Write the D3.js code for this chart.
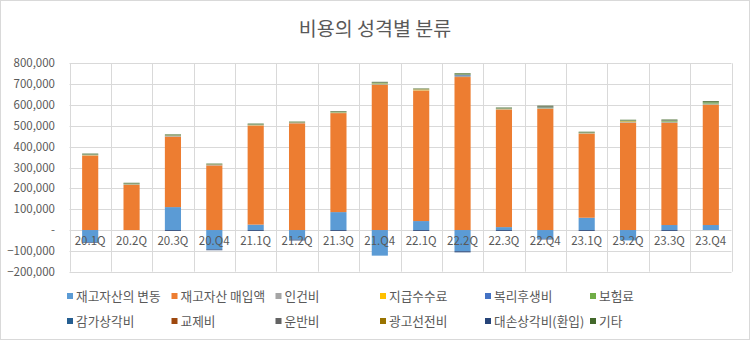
<!DOCTYPE html>
<html><head><meta charset="utf-8">
<script src="https://cdn.jsdelivr.net/npm/d3@7"></script>
<style>body{margin:0;background:#fff}svg{display:block}text{font-family:"Noto Sans CJK KR","Noto Sans",sans-serif;fill:#595959}</style>
</head><body><svg id="c" width="751" height="341"></svg>
<script>
const categories = ["20.1Q","20.2Q","20.3Q","20.Q4","21.1Q","21.2Q","21.3Q","21.Q4","22.1Q","22.2Q","22.3Q","22.Q4","23.1Q","23.2Q","23.3Q","23.Q4"];
const seriesNames = ["재고자산의 변동","재고자산 매입액","인건비","지급수수료","복리후생비","보험료","감가상각비","교제비","운반비","광고선전비","대손상각비(환입)","기타"];
const seriesColors = ["#5B9BD5","#ED7D31","#A5A5A5","#FFC000","#4472C4","#70AD47","#255E91","#9E480E","#636363","#997300","#264478","#43682B"];
const invChange   = [-58000,0,110000,-93000,26000,-46000,86000,-123000,43000,-102000,14000,-42000,59000,-50000,24000,24000];
const purchases   = [357000,216000,338000,310000,475000,512000,475000,696000,626000,734000,564000,581000,403000,515000,490000,576000];
const labor       = [2000,3000,3000,2000,2000,1500,2000,4000,1500,5000,2000,3000,2000,3000,4000,4000];
const fees        = [1000,1000,1000,1000,1000,1000,1000,2500,3500,1500,1000,1000,1000,3500,1500,1500];
const welfare     = [500,500,500,500,500,500,500,1000,500,3500,500,1000,500,1000,1000,1500];
const insurance   = [2000,2000,2000,1500,2000,1500,2000,2500,1000,3000,2000,2000,2000,2500,3500,6000];
const depreciation= [500,500,500,500,500,500,500,500,500,500,500,1000,500,500,500,500];
const entertain   = [300,300,300,300,300,300,300,300,300,300,300,300,300,300,300,300];
const freight     = [500,500,500,500,500,500,500,1000,500,1000,500,4000,500,500,2000,1500];
const advert      = [300,300,300,300,300,300,300,300,300,300,300,300,300,300,300,300];
const badDebt     = [-3000,0,-4000,-4000,-4000,-4000,-4000,0,-4000,-5000,-4000,-3000,-4000,0,-4000,0];
const others      = [2500,2500,2500,2000,2500,2000,2500,3000,2000,3000,2500,3000,2500,2500,3000,3500];
const yTicks = [-200000,-100000,0,100000,200000,300000,400000,500000,600000,700000,800000];

const seriesValues = [invChange,purchases,labor,fees,welfare,insurance,depreciation,entertain,freight,advert,badDebt,others];
const rows = categories.map((c,i)=>{const o={cat:c};seriesNames.forEach((s,j)=>o[s]=seriesValues[j][i]);return o;});

const svg = d3.select("#c");
svg.append("rect").attr("x",0.5).attr("y",0.5).attr("width",749).attr("height",339).attr("fill","#fff").attr("stroke","#d9d9d9");

const L=69.5,R=731.5,T=63.3,B=271.7;
const x = d3.scaleBand().domain(categories).range([L,R]).paddingInner(0.61).paddingOuter(0.305);
const xg = d3.scaleBand().domain(categories).range([L,R]);
const y = d3.scaleLinear().domain([-200000,800000]).range([B,T]);

const g = svg.append("g");
g.selectAll("line.h").data(yTicks).join("line").attr("x1",L).attr("x2",R)
  .attr("y1",d=>Math.round(y(d))+0.5).attr("y2",d=>Math.round(y(d))+0.5).attr("stroke","#d9d9d9");
const vb = categories.map(c=>xg(c)).concat([R]);
g.selectAll("line.v").data(vb).join("line").attr("y1",T).attr("y2",B)
  .attr("x1",d=>Math.round(d)+0.5).attr("x2",d=>Math.round(d)+0.5).attr("stroke","#d9d9d9");

const stack = d3.stack().keys(seriesNames).offset(d3.stackOffsetDiverging);
const layers = stack(rows);
g.selectAll("g.s").data(layers).join("g").attr("fill",(d,i)=>seriesColors[i])
  .selectAll("rect").data(d=>d).join("rect")
  .attr("x",d=>x(d.data.cat)).attr("width",x.bandwidth())
  .attr("y",d=>y(Math.max(d[0],d[1]))).attr("height",d=>Math.abs(y(d[0])-y(d[1])));

const fmt = d3.format(",");
svg.append("g").selectAll("text").data(yTicks).join("text")
  .attr("x",55).attr("y",d=>y(d)).attr("dy","0.35em").attr("text-anchor","end")
  .style("font-size","11.5px").text(d=>d===0?"-":fmt(d));
svg.append("g").selectAll("text").data(categories).join("text")
  .attr("x",d=>xg(d)+xg.bandwidth()/2).attr("y",y(0)+15).attr("text-anchor","middle")
  .style("font-size","11.5px").text(d=>d);

svg.append("text").attr("x",375).attr("y",36).attr("text-anchor","middle").style("font-size","19.5px").text("비용의 성격별 분류");

const colX=[67,171.5,275.5,380,485,590];
const leg = svg.append("g").selectAll("g").data(seriesNames).join("g")
  .attr("transform",(d,i)=>`translate(${colX[i%6]},${i<6?296:321})`);
leg.append("rect").attr("x",0).attr("y",-3).attr("width",6).attr("height",6).attr("fill",(d,i)=>seriesColors[i]);
leg.append("text").attr("x",9).attr("y",0).attr("dy","0.36em").style("font-size","12.7px").text(d=>d);
</script></body></html>
